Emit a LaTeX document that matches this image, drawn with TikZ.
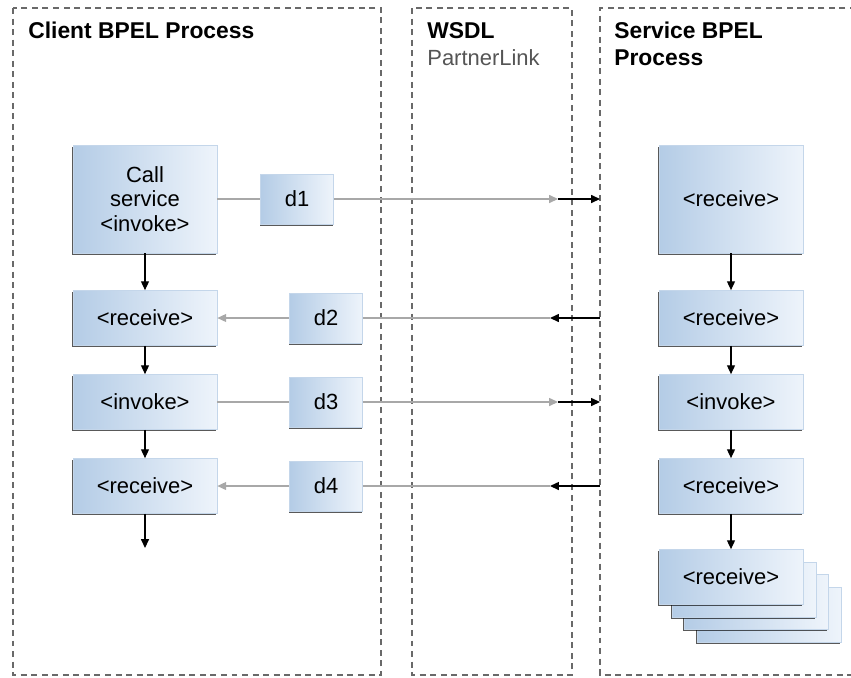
\documentclass[tikz,border=0pt]{standalone}
\usepackage{fontspec}
\setmainfont{Liberation Sans}
\usetikzlibrary{arrows.meta,shadows}
\definecolor{boxleft}{RGB}{180,204,230}
\definecolor{boxright}{RGB}{238,244,251}
\definecolor{boxline}{RGB}{196,214,234}
\definecolor{flowgray}{RGB}{168,168,168}
\definecolor{framegray}{RGB}{105,105,105}
\definecolor{labelgray}{RGB}{85,85,85}
\begin{document}
\begin{tikzpicture}[x=0.02cm, y=-0.02cm,
    frame/.style={draw=framegray, line width=0.7pt, dash pattern=on 3.4pt off 2.6pt},
    act/.style={draw=boxline, line width=0.4pt, left color=boxleft, right color=boxright,
        minimum width=2.88cm, minimum height=1.1cm, inner sep=0pt, align=center,
        font=\fontsize{12.5}{13.8}\selectfont,
        drop shadow={shadow xshift=-0.5pt, shadow yshift=-0.9pt, fill=black, opacity=0.65}},
    bigact/.style={act, minimum height=2.16cm},
    msg/.style={act, minimum width=1.46cm, minimum height=1cm},
    flow/.style={draw=black, line width=0.7pt, -{Triangle[length=5pt,width=4.5pt]}},
    gflow/.style={flow, draw=flowgray},
    gline/.style={draw=flowgray, line width=0.7pt},
    title/.style={anchor=base west, inner sep=0pt, font=\fontsize{13}{15}\bfseries\selectfont}]
    \useasboundingbox (0,0) rectangle (851,677);

    % Ramki procesow (kreskowane)
    \draw[frame] (13,8) rectangle (381,675);
    \draw[frame] (412,8) rectangle (572,675);
    \draw[frame] (856,8) -- (600,8) -- (600,675) -- (856,675);

    % Naglowki
    \node[title] (client) at (28,38) {Client BPEL Process};
    \node[title] (wsdl) at (427,38) {WSDL};
    \node[anchor=base west, inner sep=0pt, text=labelgray, font=\fontsize{12.5}{15}\selectfont] (plink) at (427,65) {PartnerLink};
    \node[title] (service) at (614,38) {Service BPEL};
    \node[title] (service2) at (614,65) {Process};

    % Proces klienta
    \node[bigact] (call) at (145,199) {Call\\service\\<invoke>};
    \node[act] (crcv1) at (145,318) {<receive>};
    \node[act] (cinv) at (145,402) {<invoke>};
    \node[act] (crcv2) at (145,486) {<receive>};
    \coordinate (cend) at (145,548);

    % Komunikaty
    \node[msg] (d1) at (297,199) {d1};
    \node[msg] (d2) at (326,318) {d2};
    \node[msg] (d3) at (326,402) {d3};
    \node[msg] (d4) at (326,486) {d4};

    % Proces uslugi
    \node[bigact] (srcv0) at (731,199) {<receive>};
    \node[act] (srcv1) at (731,318) {<receive>};
    \node[act] (sinv) at (731,402) {<invoke>};
    \node[act] (srcv2) at (731,486) {<receive>};
    \foreach \i/\o in {3/38,2/25,1/13}
        \node[act] (stack\i) at (731+\o,577+\o) {};
    \node[act] (stack0) at (731,577) {<receive>};

    % Punkty na granicy PartnerLink
    \coordinate (m1) at (558,199);  \coordinate (e1) at (600,199);
    \coordinate (m2) at (550,318);  \coordinate (e2) at (600,318);
    \coordinate (m3) at (558,402);  \coordinate (e3) at (600,402);
    \coordinate (m4) at (550,486);  \coordinate (e4) at (600,486);

    % Przeplyw w procesie klienta
    \draw[flow] (call) -- (crcv1);
    \draw[flow] (crcv1) -- (cinv);
    \draw[flow] (cinv) -- (crcv2);
    \draw[flow] (crcv2) -- (cend);

    % Przeplyw w procesie uslugi
    \draw[flow] (srcv0) -- (srcv1);
    \draw[flow] (srcv1) -- (sinv);
    \draw[flow] (sinv) -- (srcv2);
    \draw[flow] (srcv2) -- (stack0);

    % Wywolania wychodzace
    \draw[gline] (call) -- (d1);
    \draw[gflow] (d1) -- (m1);
    \draw[flow] (m1) -- (e1);
    \draw[gline] (cinv) -- (d3);
    \draw[gflow] (d3) -- (m3);
    \draw[flow] (m3) -- (e3);

    % Odpowiedzi przychodzace
    \draw[gline] (d2) -- (m2);
    \draw[flow] (e2) -- (m2);
    \draw[gflow] (d2) -- (crcv1);
    \draw[gline] (d4) -- (m4);
    \draw[flow] (e4) -- (m4);
    \draw[gflow] (d4) -- (crcv2);
\end{tikzpicture}
\end{document}
